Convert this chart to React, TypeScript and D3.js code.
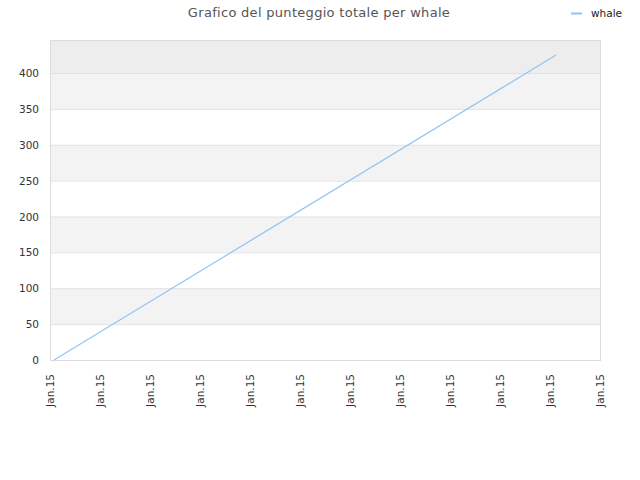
import React from "react";
import * as d3 from "d3";

const title = "Grafico del punteggio totale per whale";
const seriesName = "whale";
const xTickValues = [0, 1, 2, 3, 4, 5, 6, 7, 8, 9, 10, 11];
const xTickLabels = ["Jan.15", "Jan.15", "Jan.15", "Jan.15", "Jan.15", "Jan.15", "Jan.15", "Jan.15", "Jan.15", "Jan.15", "Jan.15", "Jan.15"];
const xValues = [0.08, 10.12];
const yValues = [0, 425];
const yTicks = [0, 50, 100, 150, 200, 250, 300, 350, 400];

const W = 640, H = 480;
const margin = { left: 50, right: 40, top: 40, bottom: 120 };

export default function App() {
  const x = d3.scaleLinear().domain([0, 11]).range([margin.left, W - margin.right]);
  const y = d3.scaleLinear().domain([0, 446]).range([H - margin.bottom, margin.top]);
  const line = d3.line<number>().x((_, i) => x(xValues[i])).y((d) => y(d));
  const font = "'DejaVu Sans', sans-serif";
  const bands: [number, number][] = [];
  for (let i = 0; i < yTicks.length; i++) {
    const lo = yTicks[i];
    const hi = i + 1 < yTicks.length ? yTicks[i + 1] : 446;
    bands.push([lo, hi]);
  }
  return (
    <svg width={W} height={H} style={{ position: "absolute", left: 0, top: 0 }}>
      <rect x={0} y={0} width={W} height={H} fill="#fff" />
      {bands.map(([lo, hi], i) => {
        let fill = i % 2 === 1 ? "#f3f3f3" : "#ffffff";
        if (i === bands.length - 1) fill = "#ededed";
        return <rect key={i} x={x(0)} y={y(hi)} width={x(11) - x(0)} height={y(lo) - y(hi)} fill={fill} />;
      })}
      {yTicks.map((t) => (
        <line key={t} x1={x(0)} x2={x(11)} y1={y(t) + 0.5} y2={y(t) + 0.5} stroke="#e2e2e2" />
      ))}
      <rect x={x(0) + 0.5} y={y(446) + 0.5} width={x(11) - x(0)} height={y(0) - y(446)} fill="none" stroke="#dcdcdc" />
      {yTicks.map((t) => (
        <text key={t} x={x(0) - 11} y={y(t) + 4} textAnchor="end" fontSize={10.5} fill="#333" fontFamily={font}>
          {t}
        </text>
      ))}
      {xTickValues.map((v, i) => (
        <text
          key={i}
          transform={`translate(${x(v) + 4},${y(0) + 14}) rotate(-90)`}
          textAnchor="end"
          fontSize={10.5}
          fill="#333"
          fontFamily={font}
        >
          {xTickLabels[i]}
        </text>
      ))}
      <path d={line(yValues) || ""} fill="none" stroke="#90c4f7" strokeWidth={1.2} />
      <text x={319} y={17} textAnchor="middle" fontSize={13} fill="#555" fontFamily={font} letterSpacing={0.3}>
        {title}
      </text>
      <line x1={571} x2={582} y1={13.5} y2={13.5} stroke="#90c4f7" strokeWidth={2} />
      <text x={591} y={17} fontSize={10.5} fill="#222" fontFamily={font}>
        {seriesName}
      </text>
    </svg>
  );
}
